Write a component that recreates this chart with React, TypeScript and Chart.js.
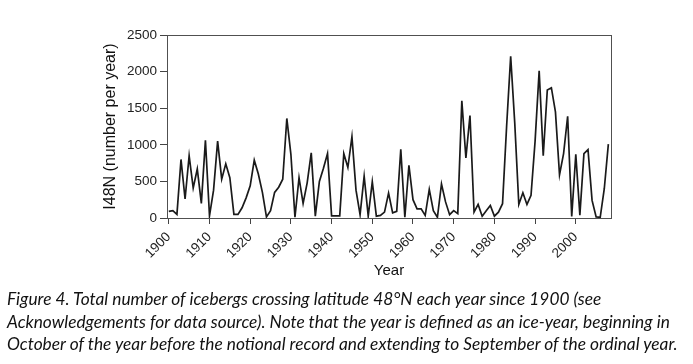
import React, { useEffect, useMemo, useRef } from 'react';
import { Chart, registerables } from 'chart.js';

Chart.register(...registerables);

// ---- data ----
const FIRST_YEAR = 1900;
// Icebergs crossing 48°N, one value per ice-year from 1900 to 2008
const ICEBERGS: number[] = [
  90, 100, 50, 800, 260, 850, 410, 670, 200, 1060, // 1900-1909
  30, 380, 1050, 530, 740, 550, 50, 50, 140, 275, // 1910-1919
  440, 790, 600, 350, 15, 100, 350, 420, 530, 1360, // 1920-1929
  870, 10, 550, 200, 480, 890, 25, 500, 680, 880, // 1930-1939
  30, 30, 30, 880, 690, 1110, 380, 45, 570, 25, // 1940-1949
  495, 25, 35, 80, 340, 70, 90, 940, 10, 720, // 1950-1959
  250, 125, 125, 35, 390, 100, 10, 465, 220, 45, // 1960-1969
  100, 60, 1600, 820, 1400, 80, 185, 25, 100, 170, // 1970-1979
  25, 80, 195, 1250, 2210, 1300, 185, 345, 185, 310, // 1980-1989
  1050, 2010, 850, 1750, 1780, 1450, 590, 880, 1390, 20, // 1990-1999
  870, 40, 880, 935, 240, 15, 10, 400, 1010, // 2000-2008
];
const X_TICKS = [1900, 1910, 1920, 1930, 1940, 1950, 1960, 1970, 1980, 1990, 2000];
const Y_TICKS = [0, 500, 1000, 1500, 2000, 2500];
const X_TITLE = 'Year';
const Y_TITLE = 'I48N (number per year)';
const CAPTION_LINES = [
  'Figure 4. Total number of icebergs crossing latitude 48°N each year since 1900 (see',
  'Acknowledgements for data source). Note that the year is defined as an ice-year, beginning in',
  'October of the year before the notional record and extending to September of the ordinal year.',
];

const AXIS_FONT = '"Liberation Sans", Arial, sans-serif';
const CAPTION_FONT = 'Lato, "Open Sans", sans-serif';

const framePlugin = {
  id: 'frame',
  afterDraw(chart: any) {
    const { ctx, chartArea: a } = chart;
    ctx.save();
    ctx.strokeStyle = '#505050';
    ctx.lineWidth = 1;
    const l = Math.round(a.left) + 0.5;
    const t = Math.round(a.top) + 0.5;
    const r = Math.round(a.right) + 0.5;
    const b = Math.round(a.bottom) + 0.5;
    ctx.strokeRect(l, t, r - l, b - t);
    ctx.restore();
  },
};

export default function App() {
  const canvasRef = useRef<HTMLCanvasElement | null>(null);

  const captionSize = useMemo(() => {
    const c = document.createElement('canvas').getContext('2d');
    if (!c) return 15;
    c.font = `italic 15px ${CAPTION_FONT}`;
    const w = c.measureText(CAPTION_LINES[1]).width;
    return (15 * 665) / w;
  }, []);

  useEffect(() => {
    const canvas = canvasRef.current;
    if (!canvas) return;
    const points = ICEBERGS.map((v, i) => ({ x: FIRST_YEAR + i, y: v }));
    const chart = new Chart(canvas, {
      type: 'line',
      data: {
        datasets: [
          {
            data: points,
            borderColor: '#1a1a1a',
            borderWidth: 1.7,
            pointRadius: 0,
            tension: 0,
            fill: false,
          },
        ],
      },
      plugins: [framePlugin],
      options: {
        animation: false,
        responsive: false,
        devicePixelRatio: 1,
        layout: { padding: { left: 97, right: 82, top: 35, bottom: 6 } },
        plugins: { legend: { display: false }, tooltip: { enabled: false } },
        scales: {
          x: {
            type: 'linear',
            min: 1899.56,
            max: 2008.65,
            afterBuildTicks: (s: any) => {
              s.ticks = X_TICKS.map((v) => ({ value: v }));
            },
            afterFit: (s: any) => {
              s.height = 66;
            },
            border: { display: false },
            grid: {
              drawOnChartArea: false,
              drawTicks: true,
              tickLength: 6,
              tickColor: '#444',
              lineWidth: 1,
            },
            ticks: {
              minRotation: 45,
              maxRotation: 45,
              padding: 5,
              color: '#222',
              font: { family: AXIS_FONT, size: 13.5 },
              callback: (v: any) => String(v),
            },
            title: {
              display: true,
              text: X_TITLE,
              color: '#111',
              font: { family: AXIS_FONT, size: 15 },
              padding: { top: 4, bottom: 4 },
            },
          },
          y: {
            min: 0,
            max: 2500,
            afterBuildTicks: (s: any) => {
              s.ticks = Y_TICKS.map((v) => ({ value: v }));
            },
            afterFit: (s: any) => {
              s.width = 70;
            },
            border: { display: false },
            grid: {
              drawOnChartArea: false,
              drawTicks: true,
              tickLength: 7,
              tickColor: '#444',
              lineWidth: 1,
            },
            ticks: {
              padding: 3,
              color: '#222',
              font: { family: AXIS_FONT, size: 13.5 },
              callback: (v: any) => String(v),
            },
            title: {
              display: true,
              text: Y_TITLE,
              color: '#111',
              font: { family: AXIS_FONT, size: 16 },
              padding: { top: 4, bottom: 4 },
            },
          },
        },
      },
    });
    return () => chart.destroy();
  }, []);

  return (
    <div
      style={{
        position: 'absolute',
        left: 0,
        top: 0,
        width: 693,
        height: 364,
        background: '#fff',
        overflow: 'hidden',
      }}
    >
      <canvas ref={canvasRef} width={693} height={290} style={{ display: 'block' }} />
      <div
        style={{
          position: 'absolute',
          left: 7,
          top: 288,
          fontFamily: CAPTION_FONT,
          fontStyle: 'italic',
          fontSize: captionSize,
          lineHeight: '22.5px',
          color: '#111',
          whiteSpace: 'nowrap',
        }}
      >
        {CAPTION_LINES.map((line, i) => (
          <div key={i}>{line}</div>
        ))}
      </div>
    </div>
  );
}
